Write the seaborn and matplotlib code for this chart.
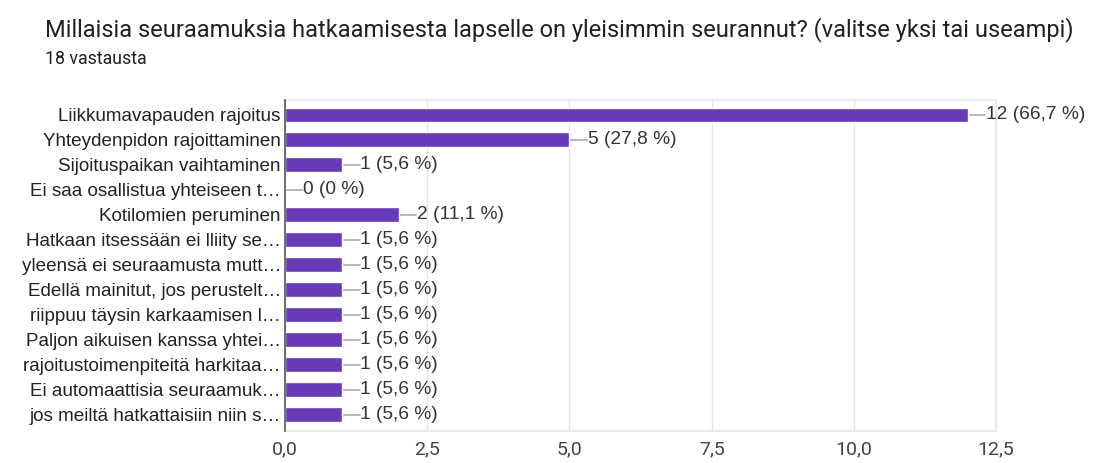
import pandas as pd
import matplotlib.pyplot as plt
import seaborn as sns
from matplotlib.ticker import FixedLocator, FuncFormatter

labels = ["Liikkumavapauden rajoitus", "Yhteydenpidon rajoittaminen",
          "Sijoituspaikan vaihtaminen", "Ei saa osallistua yhteiseen t…",
          "Kotilomien peruminen", "Hatkaan itsessään ei lliity se…",
          "yleensä ei seuraamusta mutt…", "Edellä mainitut, jos perustelt…",
          "riippuu täysin karkaamisen l…", "Paljon aikuisen kanssa yhtei…",
          "rajoitustoimenpiteitä harkitaa…", "Ei automaattisia seuraamuk…",
          "jos meiltä hatkattaisiin niin s…"]
counts = [12, 5, 1, 0, 2, 1, 1, 1, 1, 1, 1, 1, 1]
pcts = ["66,7", "27,8", "5,6", "0", "11,1", "5,6", "5,6", "5,6", "5,6", "5,6", "5,6", "5,6", "5,6"]
xticks = [0, 2.5, 5, 7.5, 10, 12.5]

data = pd.DataFrame({"label": labels, "count": counts})

sns.set_theme(style="white")
plt.rcParams['font.family'] = ['Liberation Sans', 'DejaVu Sans']

fig = plt.figure(figsize=(10.94, 4.63), dpi=100)
ax = fig.add_axes([0.2605, 0.069, 0.65, 0.715])
sns.barplot(data=data, x="count", y="label", color="#673AB7", saturation=1,
            width=0.6, ax=ax, zorder=3)

# leader line + value label for each bar
for i, (c, p) in enumerate(zip(counts, pcts)):
    ax.plot([c, c + 0.31], [i, i], color="#aaaaaa", lw=1.2, zorder=2)
    ax.text(c + 0.32, i, f"{c} ({p} %)", va="center", ha="left",
            fontsize=13.8, color="#333333", zorder=4)

ax.set_xlim(0, 12.5)
ax.set_ylim(12.65, -0.6)
ax.xaxis.set_major_locator(FixedLocator(xticks))
ax.xaxis.set_major_formatter(FuncFormatter(lambda v, pos: f"{v:.1f}".replace(".", ",")))
for t in ax.get_xticklabels():
    t.set_family(['Roboto', 'DejaVu Sans'])
ax.tick_params(axis="x", pad=7, length=0, labelsize=14, labelcolor="#444444")
ax.tick_params(axis="y", length=0, pad=3, labelsize=13.6, labelcolor="#222222")
ax.set_xlabel("")
ax.set_ylabel("")
ax.grid(axis="x", color="#e6e6e6", lw=1, zorder=0)
for s in ["top", "right"]:
    ax.spines[s].set_color("#e6e6e6")
ax.spines["bottom"].set_color("#e6e6e6")
ax.spines["left"].set_color("#555555")
ax.spines["left"].set_linewidth(1.2)
ax.spines["left"].set_zorder(5)

fig.text(0.041, 0.936, "Millaisia seuraamuksia hatkaamisesta lapselle on yleisimmin seurannut? (valitse yksi tai useampi)",
         fontsize=17, color="#202124", family=['Roboto', 'DejaVu Sans'], va="center")
fig.text(0.041, 0.872, "18 vastausta", fontsize=12.8, color="#202124",
         family=['Roboto', 'DejaVu Sans'], va="center")

fig.savefig("out.png", dpi=100)
